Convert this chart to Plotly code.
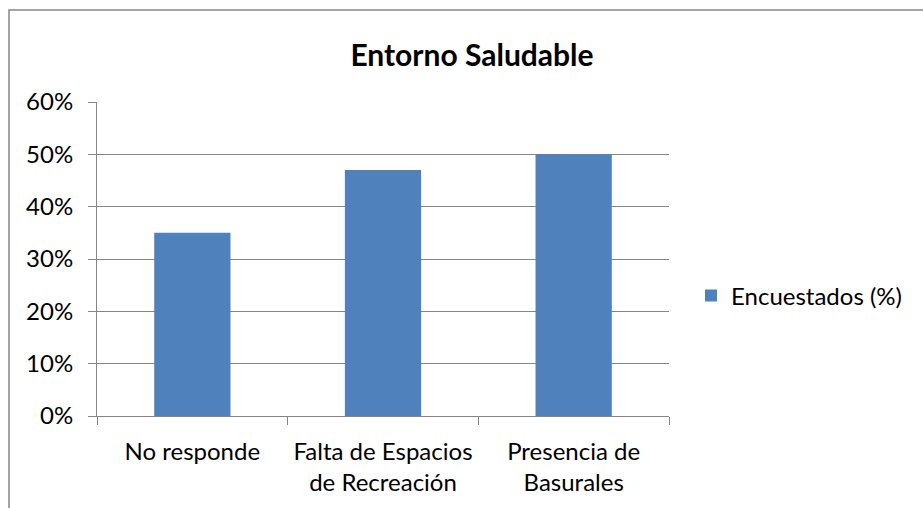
import plotly.graph_objects as go

categories = ["No responde", "Falta de Espacios<br>de Recreación", "Presencia de<br>Basurales"]
values = [0.35, 0.47, 0.50]
series_name = "Encuestados (%)"
y_ticks = [0, 0.1, 0.2, 0.3, 0.4, 0.5, 0.6]

W, H = 923, 508
L, R, T, B = 97, 254, 102, 92
pw, ph = W - L - R, H - T - B

FONT = "Lato, 'Open Sans', sans-serif"
GRID = "#868686"

fig = go.Figure(go.Bar(
    x=categories, y=values, name=series_name,
    marker=dict(color="#4F81BD", line=dict(width=0)),
    width=0.4, showlegend=True,
))

fig.update_layout(
    width=W, height=H,
    margin=dict(l=L, r=R, t=T, b=B),
    paper_bgcolor="white", plot_bgcolor="white",
    font=dict(family=FONT, size=24, color="#000000"),
    title=dict(text="<b>Entorno Saludable</b>", x=472 / W, xanchor="center",
               y=1 - 55 / H, yanchor="middle", font=dict(size=30, family=FONT)),
    showlegend=True,
    legend=dict(x=(691 - L) / pw, xanchor="left", y=(416 - 296) / ph, yanchor="middle",
                font=dict(size=24), itemwidth=30, bgcolor="rgba(0,0,0,0)"),
    bargap=0.6,
)

fig.update_yaxes(
    range=[0, 0.6], tickvals=y_ticks, tickformat=".0%",
    showgrid=True, gridcolor=GRID, gridwidth=1,
    showline=True, linecolor=GRID, linewidth=1,
    ticks="outside", ticklen=8, tickcolor=GRID, zeroline=False,
    ticklabelstandoff=10,
)
fig.update_xaxes(
    type="category", showline=True, linecolor=GRID, linewidth=1,
    ticks="outside", tickson="boundaries", ticklen=8, tickcolor=GRID,
    showgrid=False, ticklabelstandoff=14,
)

# chart frame
fig.add_shape(type="rect", xref="paper", yref="paper",
              x0=(9 - L) / pw, x1=(W + 20 - L) / pw,
              y0=-(B + 20) / ph, y1=(H - B - 10) / ph,
              line=dict(color=GRID, width=1.5), layer="below")

fig.write_html("out.html")
